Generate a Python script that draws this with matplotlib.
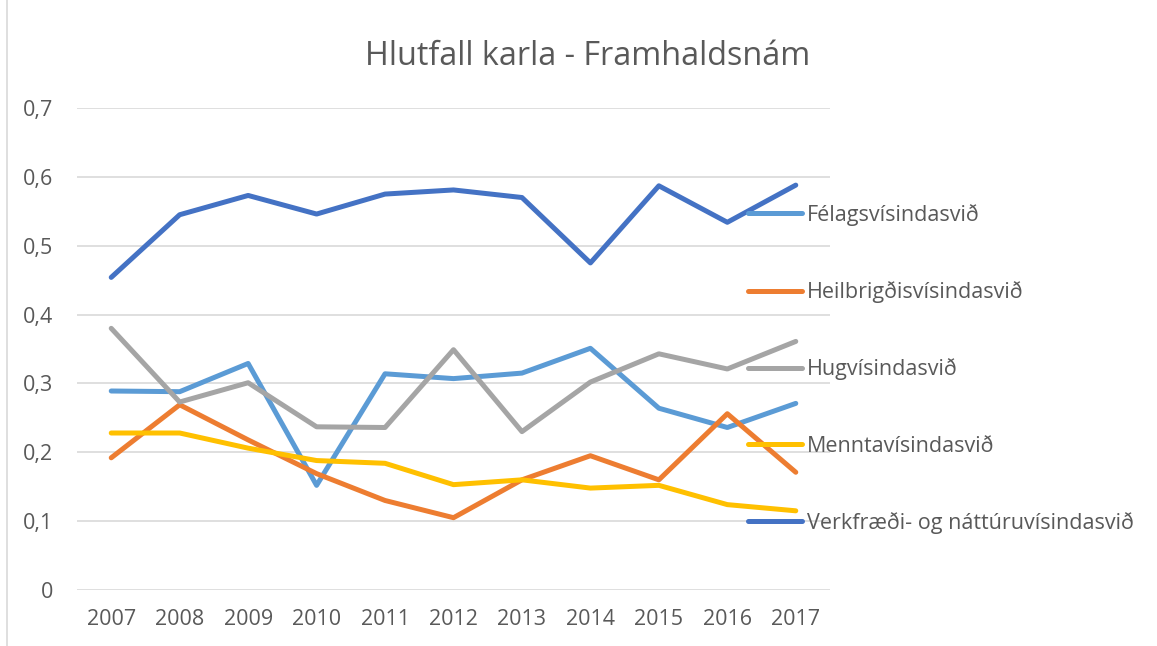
import matplotlib
matplotlib.use("Agg")
import matplotlib.pyplot as plt
from matplotlib.lines import Line2D
from matplotlib.ticker import FuncFormatter

plt.rcParams['font.family'] = ['Open Sans', 'DejaVu Sans']

# gögn lesin af myndinni
years = [2007, 2008, 2009, 2010, 2011, 2012, 2013, 2014, 2015, 2016, 2017]
felags = [0.289, 0.288, 0.329, 0.152, 0.314, 0.307, 0.315, 0.351, 0.264, 0.236, 0.271]
heilbr = [0.192, 0.269, 0.218, 0.169, 0.130, 0.105, 0.160, 0.195, 0.160, 0.256, 0.171]
hugvis = [0.380, 0.273, 0.301, 0.237, 0.236, 0.349, 0.230, 0.302, 0.343, 0.321, 0.361]
mennta = [0.228, 0.228, 0.206, 0.188, 0.184, 0.153, 0.160, 0.148, 0.152, 0.124, 0.115]
verkfr = [0.454, 0.545, 0.573, 0.546, 0.575, 0.581, 0.570, 0.475, 0.587, 0.534, 0.588]

series = [
    ("Félagsvísindasvið", felags, "#5B9BD5"),
    ("Heilbrigðisvísindasvið", heilbr, "#ED7D31"),
    ("Hugvísindasvið", hugvis, "#A5A5A5"),
    ("Menntavísindasvið", mennta, "#FFC000"),
    ("Verkfræði- og náttúruvísindasvið", verkfr, "#4472C4"),
]

W, H = 1157, 646
fig = plt.figure(figsize=(W / 100, H / 100), dpi=100)
ax = fig.add_axes([77 / W, 1 - 590 / H, (830 - 77) / W, (590 - 108) / H])

for name, vals, col in series:
    ax.plot(years, vals, color=col, lw=3.6, label=name, solid_capstyle='round', zorder=3)

ax.set_xlim(2006.5, 2017.5)
ax.set_ylim(0, 0.7)
ax.set_xticks(years)
ax.set_yticks([i / 10 for i in range(8)])
ax.yaxis.set_major_formatter(FuncFormatter(lambda v, p: "0" if v == 0 else f"{v:.1f}".replace(".", ",")))
ax.grid(axis='y', color='#d9d9d9', lw=1.2, zorder=0)
ax.tick_params(length=0, labelsize=15.5, labelcolor='#595959')
ax.tick_params(axis='y', pad=17)
ax.tick_params(axis='x', pad=14)
for s in ax.spines.values():
    s.set_visible(False)

fig.text(0.508, 0.912, "Hlutfall karla - Framhaldsnám", ha='center', va='center',
         fontsize=23.3, color='#595959')

fig.legend(loc='upper left', bbox_to_anchor=(748 / W, 1 - 204 / H), frameon=False,
           fontsize=15.5, labelcolor='#595959', handlelength=2.5, handletextpad=0.25,
           labelspacing=2.57, borderpad=0, borderaxespad=0)

fig.add_artist(Line2D([7 / W, 7 / W], [0, 1], color='#d9d9d9', lw=1.2))

fig.savefig("out.png", dpi=100)
